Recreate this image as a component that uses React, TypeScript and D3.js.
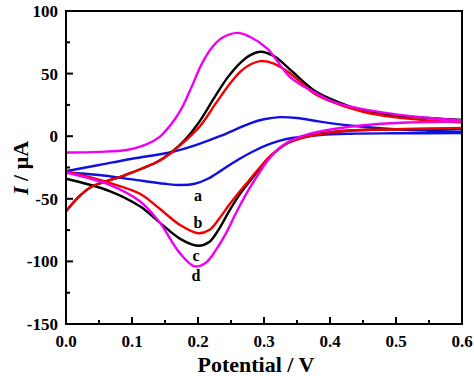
import React from "react";
import * as d3 from "d3";

type P = [number, number];

// Forward (upper) and reverse (lower) branches, potential in V, current in µA
const aUpper: P[] = [[0, -28], [0.05, -23], [0.1, -18], [0.162, -12.4], [0.2, -6.5], [0.233, 0], [0.264, 7], [0.28, 10.5], [0.3, 13.5], [0.324, 15.2], [0.35, 14.5], [0.385, 11.6], [0.43, 8.5], [0.5, 5.5], [0.55, 4.3], [0.6, 3.5]];
const aLower: P[] = [[0, -29], [0.05, -31], [0.1, -34.5], [0.15, -38], [0.175, -39], [0.195, -38], [0.215, -34], [0.235, -27.5], [0.26, -19], [0.284, -12], [0.31, -6], [0.334, -2.2], [0.385, 1], [0.43, 2], [0.5, 2.3], [0.6, 2.5]];

const bUpper: P[] = [[0, -60], [0.02, -48], [0.04, -40], [0.09, -31], [0.14, -20], [0.16, -13], [0.18, -4], [0.203, 8], [0.228, 27], [0.25, 43], [0.265, 52], [0.28, 57.5], [0.295, 60], [0.315, 58], [0.34, 50], [0.375, 34.5], [0.4, 28], [0.45, 19.5], [0.5, 15], [0.55, 12.5], [0.6, 11]];
const bLower: P[] = [[0, -28], [0.067, -37.5], [0.112, -46], [0.142, -58], [0.173, -71], [0.2, -77.5], [0.217, -75], [0.232, -66], [0.247, -55], [0.262, -45], [0.277, -35.5], [0.292, -26], [0.31, -15.5], [0.334, -6], [0.37, 0], [0.43, 4.5], [0.5, 5.5], [0.6, 6.5]];

const cUpper: P[] = [[0, -60], [0.02, -48], [0.04, -40], [0.09, -31], [0.14, -20], [0.158, -13.5], [0.18, -3], [0.2, 10], [0.225, 31], [0.245, 47], [0.265, 59], [0.28, 65], [0.295, 67.5], [0.315, 64], [0.34, 53], [0.375, 37], [0.4, 30], [0.45, 20.5], [0.5, 16.5], [0.55, 14.5], [0.6, 13]];
const cLower: P[] = [[0, -34], [0.067, -44], [0.112, -56], [0.142, -69], [0.173, -82], [0.2, -87.5], [0.217, -84.5], [0.232, -74], [0.247, -60], [0.262, -47.5], [0.277, -37], [0.292, -27], [0.31, -16], [0.334, -6], [0.37, 0.5], [0.43, 4.5], [0.5, 5.5], [0.6, 6]];

const dUpper: P[] = [[0, -13], [0.05, -12.5], [0.092, -11], [0.12, -7], [0.142, -0.5], [0.16, 10], [0.175, 22], [0.19, 39], [0.205, 57], [0.22, 70], [0.235, 78], [0.26, 82.5], [0.28, 79], [0.305, 70], [0.34, 47], [0.38, 34], [0.405, 27.5], [0.456, 21], [0.506, 17], [0.55, 14.5], [0.6, 12.5]];
const dLower: P[] = [[0, -29], [0.067, -39], [0.112, -52], [0.142, -69], [0.172, -93], [0.195, -104], [0.212, -101], [0.227, -91], [0.242, -78], [0.257, -62], [0.272, -47], [0.287, -34], [0.31, -16.5], [0.334, -5.5], [0.37, 2], [0.43, 7.6], [0.5, 10.5], [0.6, 12]];

const seriesNames = ["a", "b", "c", "d"];
const seriesColors = ["#1010e0", "#f00000", "#000000", "#f000f0"];
const uppers = [aUpper, bUpper, cUpper, dUpper];
const lowers = [aLower, bLower, cLower, dLower];
const labelPos: P[] = [[0.2, -52], [0.2, -73], [0.197, -100], [0.197, -116]];

const xTicks = [0, 0.1, 0.2, 0.3, 0.4, 0.5, 0.6];
const xTickLabels = ["0.0", "0.1", "0.2", "0.3", "0.4", "0.5", "0.6"];
const xMinor = [0.05, 0.15, 0.25, 0.35, 0.45, 0.55];
const yTicks = [-150, -100, -50, 0, 50, 100];
const yMinor = [-125, -75, -25, 25, 75];

export default function App() {
  const W = 474, H = 376;
  const left = 66, right = 462, top = 11, bottom = 324;
  const x = d3.scaleLinear().domain([0, 0.6]).range([left, right]);
  const y = d3.scaleLinear().domain([-150, 100]).range([bottom, top]);
  const line = d3.line<P>().x(d => x(d[0])).y(d => y(d[1])).curve(d3.curveCatmullRom.alpha(0.5));
  const fontStyle = { fontFamily: "'Liberation Serif', 'Times New Roman', 'DejaVu Serif', serif", fontWeight: 700 } as React.CSSProperties;

  const order = [0, 2, 1, 3];
  return (
    <svg width={W} height={H} style={{ position: "absolute", left: 0, top: 0 }}>
      <rect x={0} y={0} width={W} height={H} fill="#fff" />
      {order.map(i => (
        <g key={i}>
          <path d={line(uppers[i]) || ""} fill="none" stroke={seriesColors[i]} strokeWidth={2.4} />
          <path d={line(lowers[i]) || ""} fill="none" stroke={seriesColors[i]} strokeWidth={2.4} />
        </g>
      ))}
      <rect x={left} y={top} width={right - left} height={bottom - top} fill="none" stroke="#000" strokeWidth={2} />
      {xTicks.map((t, k) => (
        <g key={"x" + k}>
          <line x1={x(t)} x2={x(t)} y1={bottom} y2={bottom - 7} stroke="#000" strokeWidth={2} />
          <text x={x(t)} y={347} textAnchor="middle" style={fontStyle} fontSize={17}>{xTickLabels[k]}</text>
        </g>
      ))}
      {xMinor.map((t, k) => (
        <line key={"xm" + k} x1={x(t)} x2={x(t)} y1={bottom} y2={bottom - 4} stroke="#000" strokeWidth={2} />
      ))}
      {yTicks.map((t, k) => (
        <g key={"y" + k}>
          <line x1={left} x2={left + 7} y1={y(t)} y2={y(t)} stroke="#000" strokeWidth={2} />
          <text x={58} y={y(t) + 6} textAnchor="end" style={fontStyle} fontSize={17}>{t}</text>
        </g>
      ))}
      {yMinor.map((t, k) => (
        <line key={"ym" + k} x1={left} x2={left + 4} y1={y(t)} y2={y(t)} stroke="#000" strokeWidth={2} />
      ))}
      {seriesNames.map((n, i) => (
        <text key={"l" + n} x={x(labelPos[i][0])} y={y(labelPos[i][1])} textAnchor="middle" style={fontStyle} fontSize={16}>{n}</text>
      ))}
      <text x={256} y={372} textAnchor="middle" style={fontStyle} fontSize={22}>Potential / V</text>
      <text transform="translate(28,168) rotate(-90)" textAnchor="middle" style={fontStyle} fontSize={22}>
        <tspan fontStyle="italic">I</tspan> / μA
      </text>
    </svg>
  );
}
